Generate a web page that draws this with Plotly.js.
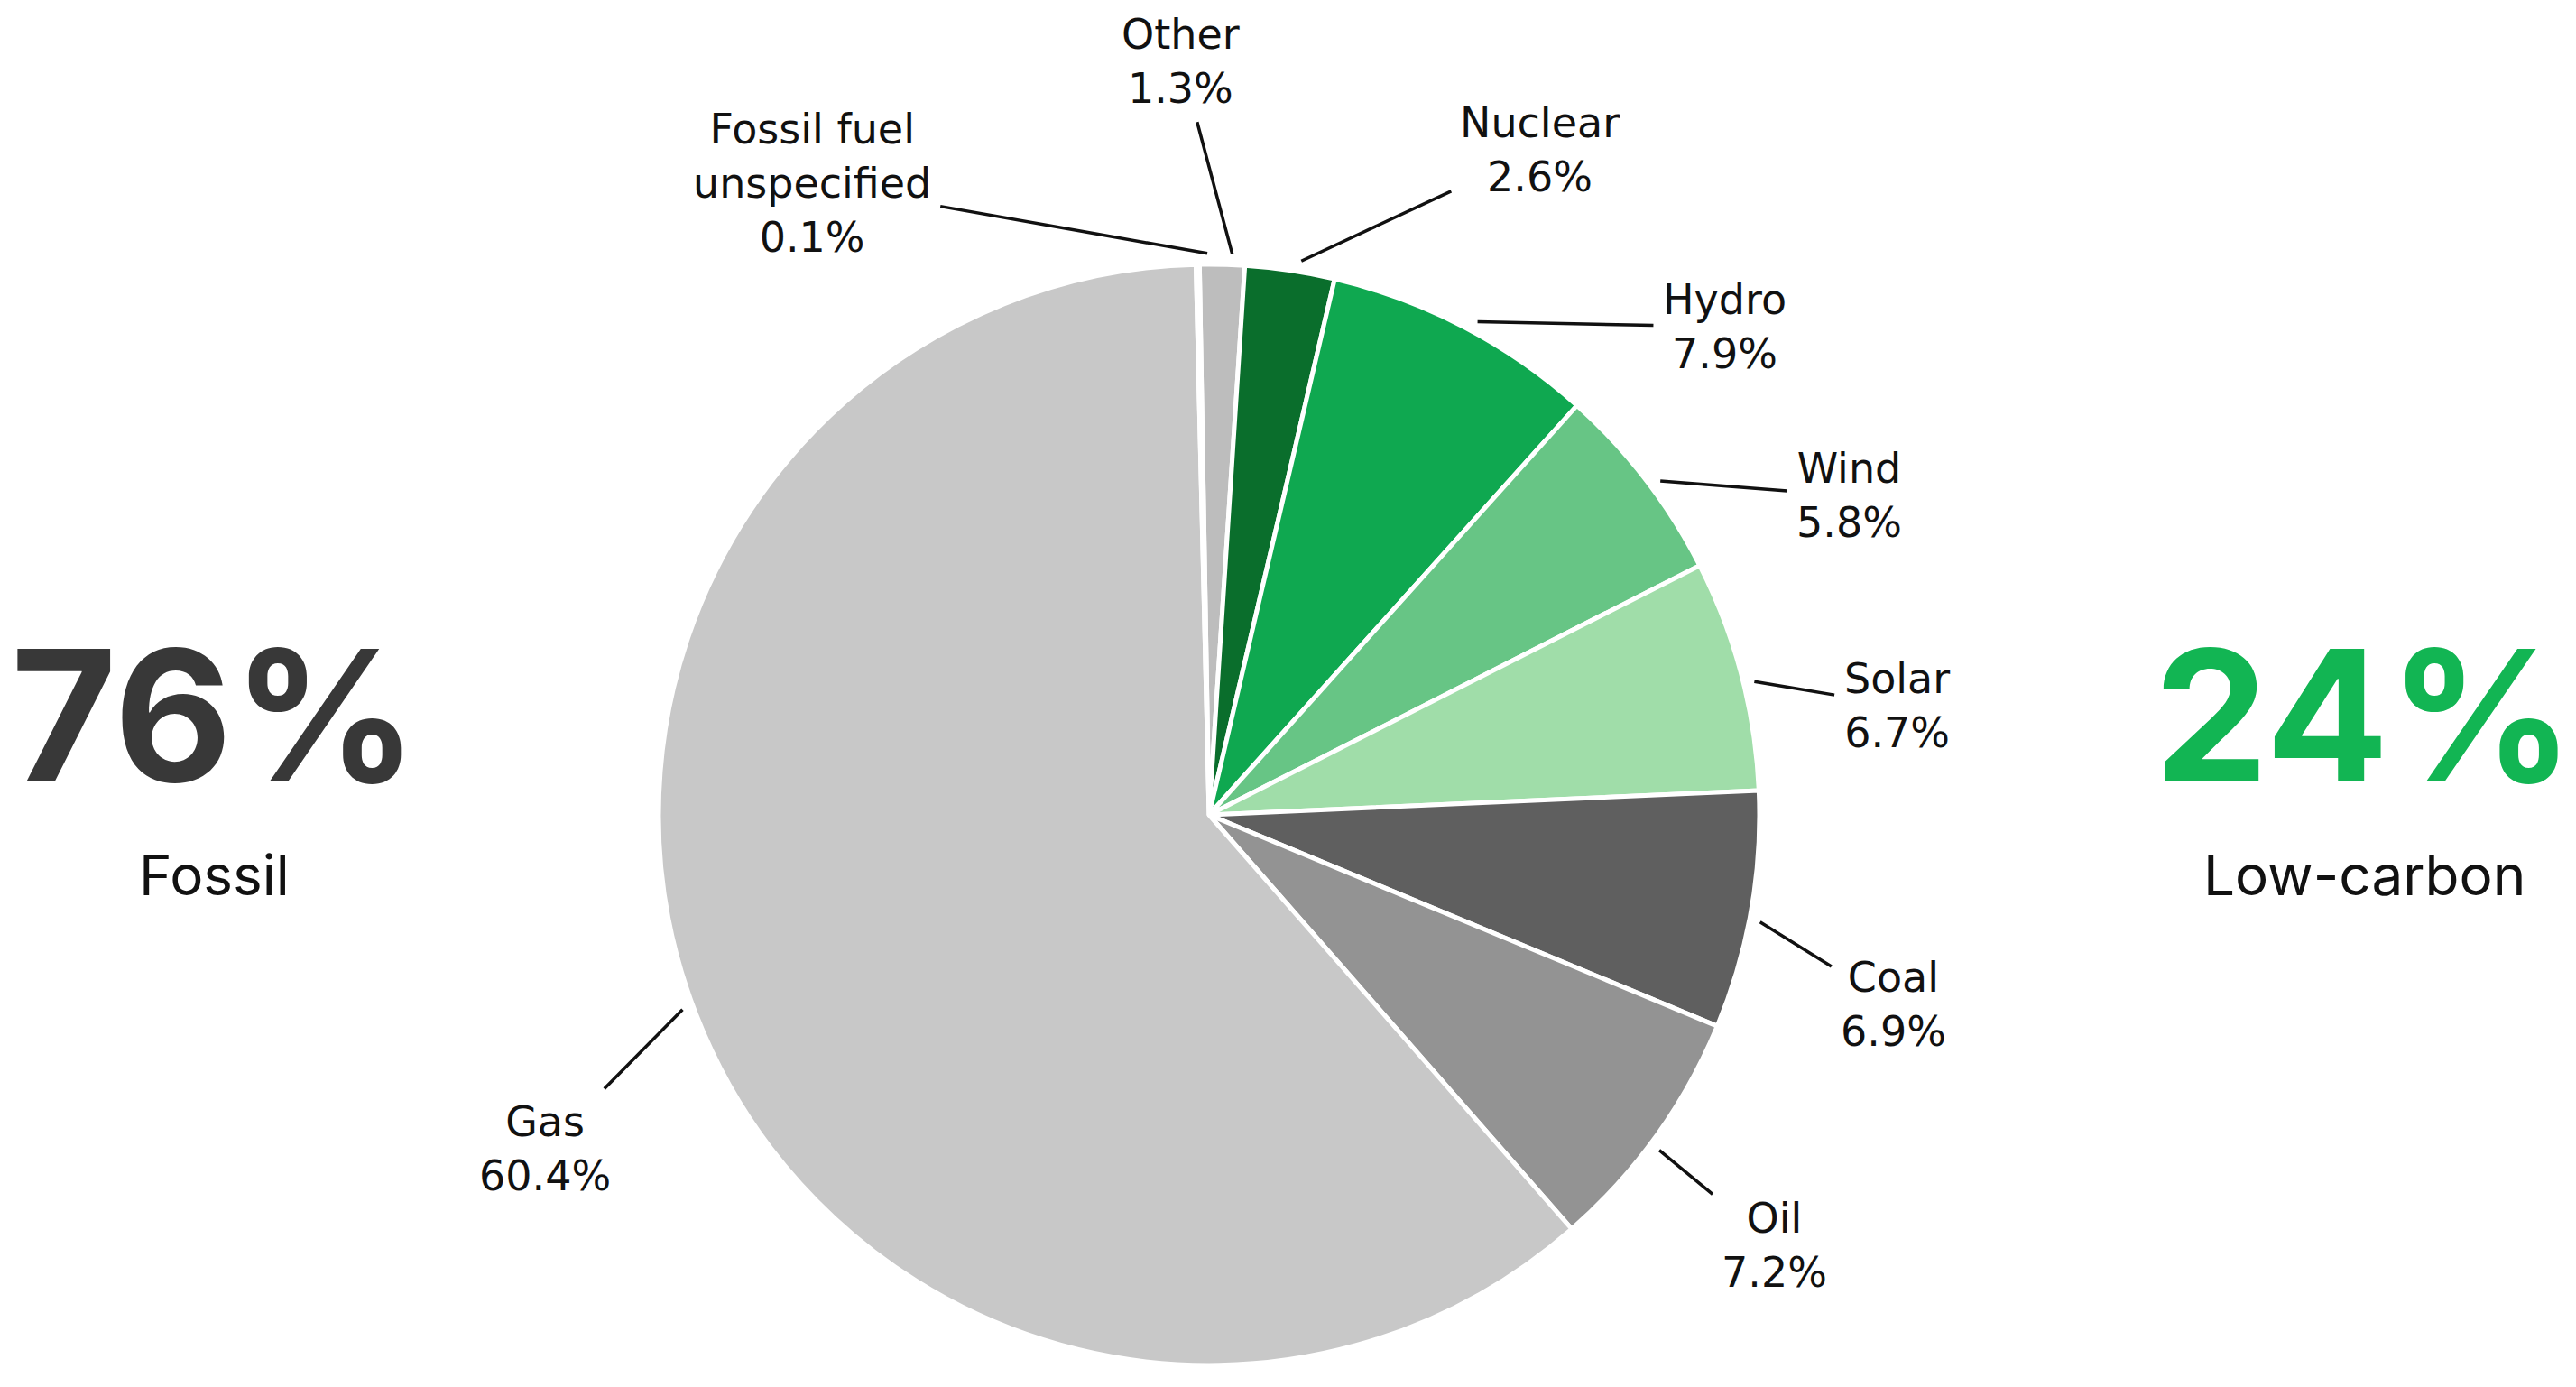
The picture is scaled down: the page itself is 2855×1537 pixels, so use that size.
<!DOCTYPE html>
<html>
<head>
<meta charset="utf-8">
<script src="https://cdn.plot.ly/plotly-3.0.1.min.js"></script>
<style>
  html, body { margin: 0; padding: 0; background: #ffffff; }
  #chart { width: 2855px; height: 1537px; }
</style>
</head>
<body>
<div id="chart"></div>
<script>
// Electricity mix, clockwise from 12 o'clock
var sources = ["Other", "Nuclear", "Hydro", "Wind", "Solar", "Coal", "Oil", "Gas", "Fossil fuel<br>unspecified"];
var shares = [1.3, 2.6, 7.9, 5.8, 6.7, 6.9, 7.2, 60.4, 0.1];
var sliceColors = ["#bdbdbd", "#0a6e2c", "#0fa850", "#67c585", "#a0dda9", "#5f5f5f", "#939393", "#c8c8c8", "#c8c8c8"];

// Totals shown either side of the pie
var groupNames = ["Fossil", "Low-carbon"];
var groupShares = [76, 24];
var groupColors = ["#383838", "#12b553"];

// label placement: angle nudge (deg) and distance (x radius) for each label
var labelNudge = [-4.5, 17, 18, 10, 4.7, 4.5, 0.6, -6.4, -32];
var labelDist = [1.37, 1.35, 1.29, 1.30, 1.265, 1.29, 1.29, 1.35, 1.355];

var W = 2855, H = 1537;
var dom = {x: [0.2557, 0.6830], y: [0.0156, 0.8094]};
var cx = (dom.x[0] + dom.x[1]) / 2 * W;
var cy = (1 - (dom.y[0] + dom.y[1]) / 2) * H;
var R = Math.min((dom.x[1] - dom.x[0]) * W, (dom.y[1] - dom.y[0]) * H) / 2;

var total = shares.reduce((a, b) => a + b, 0);
var labelFont = {family: "DejaVu Sans, Verdana, sans-serif", size: 46, color: "#111111"};

var annotations = [];
var start = 0;
shares.forEach(function(v, i) {
  var mid = start + v / total * 180;
  start += v / total * 360;
  var a = mid * Math.PI / 180;
  var tipX = cx + R * 1.02 * Math.sin(a);
  var tipY = cy - R * 1.02 * Math.cos(a);
  var b = (mid + labelNudge[i]) * Math.PI / 180;
  var txtX = cx + R * labelDist[i] * Math.sin(b);
  var txtY = cy - R * labelDist[i] * Math.cos(b);
  annotations.push({
    xref: "paper", yref: "paper",
    x: tipX / W, y: 1 - tipY / H,
    ax: txtX - tipX, ay: txtY - tipY,
    text: sources[i] + "<br>" + v.toFixed(1) + "%",
    font: labelFont,
    showarrow: true, arrowhead: 0, arrowwidth: 3.5, arrowcolor: "#111111",
    standoff: 0, startstandoff: 4, borderpad: 6
  });
});

// side totals
var sideX = [237 / W, 2620 / W];
groupNames.forEach(function(name, i) {
  annotations.push({
    xref: "paper", yref: "paper", x: sideX[i], y: 1 - 792 / H,
    xanchor: "center", yanchor: "middle", showarrow: false,
    text: "<b>" + groupShares[i] + "%</b>",
    font: {family: "Inter, Roboto, sans-serif", size: 202, color: groupColors[i], weight: 800}
  });
  annotations.push({
    xref: "paper", yref: "paper", x: sideX[i], y: 1 - 969 / H,
    xanchor: "center", yanchor: "middle", showarrow: false,
    text: name,
    font: {family: "Inter, Roboto, sans-serif", size: 62, color: "#111111"}
  });
});

var trace = {
  type: "pie",
  labels: sources,
  values: shares,
  sort: false,
  direction: "clockwise",
  rotation: -1,
  domain: dom,
  marker: {colors: sliceColors, line: {color: "#ffffff", width: 5}},
  textinfo: "none",
  textposition: "none",
  hoverinfo: "label+value"
};

var layout = {
  width: W, height: H,
  margin: {l: 0, r: 0, t: 0, b: 0},
  paper_bgcolor: "#ffffff",
  showlegend: false,
  annotations: annotations
};

Plotly.newPlot("chart", [trace], layout, {displayModeBar: false});
</script>
</body>
</html>
